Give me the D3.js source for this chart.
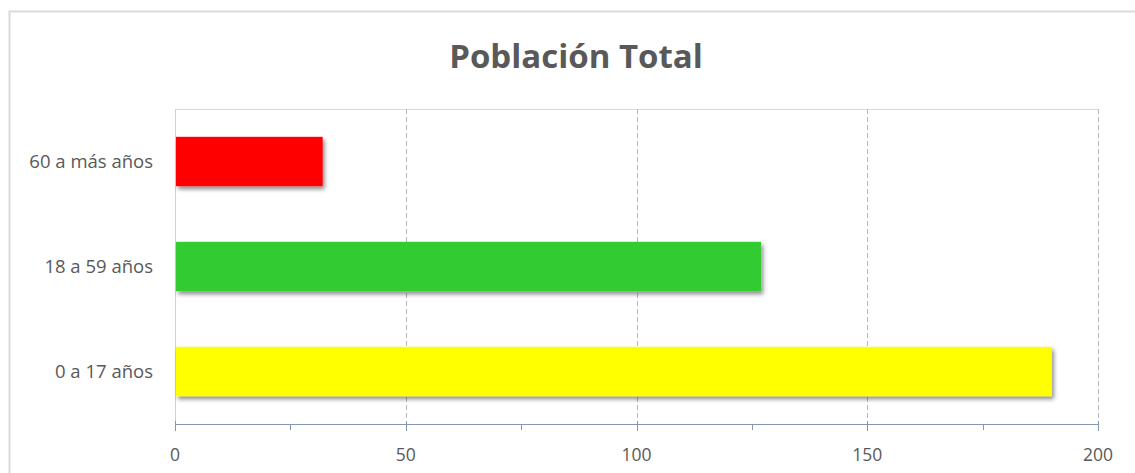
<!DOCTYPE html>
<html>
<head>
<meta charset="utf-8">
<script src="https://cdn.jsdelivr.net/npm/d3@7"></script>
<style>
  body { margin: 0; background: #fff; }
  text { font-family: "Open Sans", sans-serif; fill: #595959; }
</style>
</head>
<body>
<div id="chart"></div>
<script>
  // data
  const categories = ["60 a más años", "18 a 59 años", "0 a 17 años"];
  const values = [32, 127, 190];
  const colors = ["#ff0000", "#33cc33", "#ffff00"];
  const xTicks = [0, 50, 100, 150, 200];
  const minorTicks = [25, 75, 125, 175];

  const width = 1135, height = 473;
  const plot = { left: 175, right: 1098, top: 109, bottom: 424 };

  const svg = d3.select("#chart")
    .append("svg")
    .attr("width", width)
    .attr("height", height);

  // outer chart frame
  svg.append("rect")
    .attr("x", 9.5).attr("y", 11.5)
    .attr("width", width).attr("height", height)
    .attr("fill", "none")
    .attr("stroke", "#d9d9d9")
    .attr("stroke-width", 2);

  const defs = svg.append("defs");
  defs.append("filter")
    .attr("id", "shadow")
    .attr("x", "-5%").attr("y", "-20%")
    .attr("width", "110%").attr("height", "150%")
    .append("feDropShadow")
    .attr("dx", 2).attr("dy", 3)
    .attr("stdDeviation", 2)
    .attr("flood-color", "#000")
    .attr("flood-opacity", 0.45);

  const x = d3.scaleLinear().domain([0, 200]).range([plot.left, plot.right]);
  const y = d3.scaleBand()
    .domain(categories)
    .range([plot.top, plot.bottom])
    .paddingInner(0.53)
    .paddingOuter(0.265);

  // plot area top border + left line
  svg.append("line")
    .attr("x1", plot.left).attr("x2", plot.right)
    .attr("y1", plot.top + 0.5).attr("y2", plot.top + 0.5)
    .attr("stroke", "#d9d9d9");
  svg.append("line")
    .attr("x1", plot.left + 0.5).attr("x2", plot.left + 0.5)
    .attr("y1", plot.top).attr("y2", plot.bottom)
    .attr("stroke", "#d0d0d0");

  // dashed gridlines
  svg.append("g")
    .selectAll("line")
    .data(xTicks.slice(1))
    .join("line")
    .attr("x1", d => Math.round(x(d)) + 0.5)
    .attr("x2", d => Math.round(x(d)) + 0.5)
    .attr("y1", plot.top)
    .attr("y2", plot.bottom)
    .attr("stroke", "#b8b8b8")
    .attr("stroke-dasharray", "5,3");

  // bars
  svg.append("g")
    .selectAll("rect")
    .data(values)
    .join("rect")
    .attr("x", x(0) + 1)
    .attr("y", (d, i) => y(categories[i]))
    .attr("width", d => x(d) - x(0) - 1)
    .attr("height", y.bandwidth())
    .attr("fill", (d, i) => colors[i])
    .attr("filter", "url(#shadow)");

  // category labels
  svg.append("g")
    .selectAll("text")
    .data(categories)
    .join("text")
    .attr("x", 153)
    .attr("y", d => y(d) + y.bandwidth() / 2)
    .attr("dy", "0.35em")
    .attr("text-anchor", "end")
    .attr("font-size", 18.5)
    .text(d => d);

  // x axis
  const axis = svg.append("g");
  axis.append("line")
    .attr("x1", plot.left).attr("x2", plot.right)
    .attr("y1", plot.bottom + 0.5).attr("y2", plot.bottom + 0.5)
    .attr("stroke", "#8497b0");
  axis.selectAll(".major")
    .data(xTicks)
    .join("line")
    .attr("class", "major")
    .attr("x1", d => Math.round(x(d)) + 0.5)
    .attr("x2", d => Math.round(x(d)) + 0.5)
    .attr("y1", plot.bottom - 3)
    .attr("y2", plot.bottom + 7)
    .attr("stroke", "#8497b0");
  axis.selectAll(".minor")
    .data(minorTicks)
    .join("line")
    .attr("class", "minor")
    .attr("x1", d => Math.round(x(d)) + 0.5)
    .attr("x2", d => Math.round(x(d)) + 0.5)
    .attr("y1", plot.bottom)
    .attr("y2", plot.bottom + 6)
    .attr("stroke", "#8497b0");
  axis.selectAll("text")
    .data(xTicks)
    .join("text")
    .attr("x", d => x(d))
    .attr("y", 461)
    .attr("text-anchor", "middle")
    .attr("font-size", 17.5)
    .text(d => d);

  // title
  svg.append("text")
    .attr("x", 576)
    .attr("y", 68)
    .attr("text-anchor", "middle")
    .attr("font-size", 33)
    .attr("font-weight", "bold")
    .text("Población Total");
</script>
</body>
</html>
